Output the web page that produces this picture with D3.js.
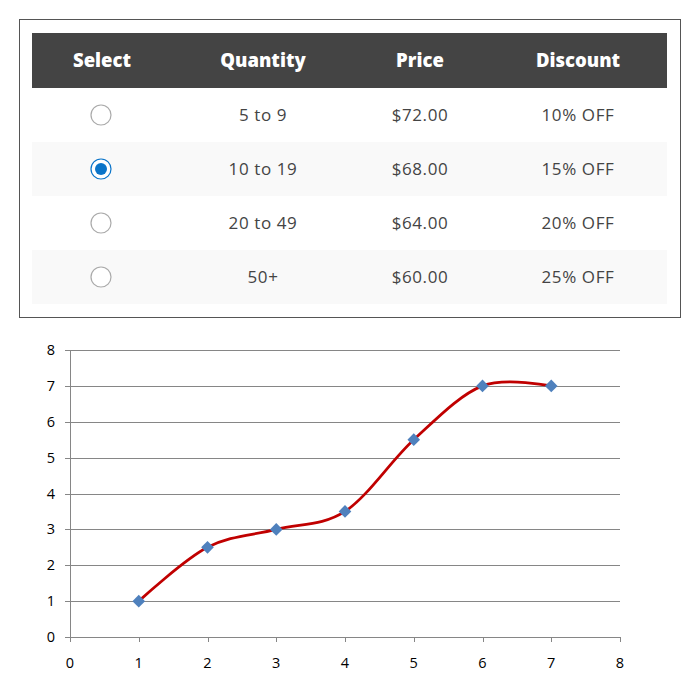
<!DOCTYPE html>
<html><head><meta charset="utf-8">
<script src="https://cdn.jsdelivr.net/npm/d3@7"></script>
<style>html,body{margin:0;padding:0;background:#fff;}svg{display:block;}</style>
</head><body>
<script>
const headers = ["Select", "Quantity", "Price", "Discount"];
const quantities = ["5 to 9", "10 to 19", "20 to 49", "50+"];
const prices = ["$72.00", "$68.00", "$64.00", "$60.00"];
const discounts = ["10% OFF", "15% OFF", "20% OFF", "25% OFF"];
const selectedRow = 1;

const xValues = [1, 2, 3, 4, 5, 6, 7];
const yValues = [1, 2.5, 3, 3.5, 5.5, 7, 7];
const xTicks = [0, 1, 2, 3, 4, 5, 6, 7, 8];
const yTicks = [0, 1, 2, 3, 4, 5, 6, 7, 8];

const svg = d3.select("body").append("svg").attr("width", 700).attr("height", 700);

// ---- Table ----
svg.append("rect").attr("x", 19.5).attr("y", 19.5).attr("width", 661).attr("height", 298)
  .attr("fill", "#fff").attr("stroke", "#555").attr("stroke-width", 1);

const colCenters = [102, 263, 420, 578];
const tX0 = 32, tX1 = 667, headY0 = 33, headY1 = 88, rowH = 54;

svg.append("rect").attr("x", tX0).attr("y", headY0).attr("width", tX1 - tX0).attr("height", headY1 - headY0).attr("fill", "#444");
svg.selectAll("text.hdr").data(headers).join("text").attr("class", "hdr")
  .attr("x", (d, i) => colCenters[i]).attr("y", (headY0 + headY1) / 2 + 6.5)
  .attr("text-anchor", "middle").attr("fill", "#fff")
  .attr("font-family", "'Open Sans', Lato, sans-serif").attr("font-weight", 800).attr("font-size", 18.5)
  .text(d => d);

const rows = quantities.map((q, i) => ({q, p: prices[i], d: discounts[i], i}));
const rowG = svg.selectAll("g.row").data(rows).join("g").attr("class", "row")
  .attr("transform", d => `translate(0,${headY1 + d.i * rowH})`);
rowG.append("rect").attr("x", tX0).attr("y", 0).attr("width", tX1 - tX0).attr("height", rowH)
  .attr("fill", d => d.i % 2 === 1 ? "#f9f9f9" : "#fff");
rowG.append("circle").attr("cx", 101).attr("cy", rowH / 2).attr("r", 10)
  .attr("fill", "#fff").attr("stroke", d => d.i === selectedRow ? "#0a74c9" : "#aaa").attr("stroke-width", 1.2);
rowG.filter(d => d.i === selectedRow).append("circle").attr("cx", 101).attr("cy", rowH / 2).attr("r", 6).attr("fill", "#0a74c9");
[["q", 1], ["p", 2], ["d", 3]].forEach(([k, c]) => {
  rowG.append("text").attr("x", colCenters[c]).attr("y", rowH / 2 + 6)
    .attr("text-anchor", "middle").attr("fill", "#444")
    .attr("font-family", "'Open Sans', Lato, sans-serif").attr("font-size", 17).attr("letter-spacing", 0.6)
    .text(d => d[k]);
});

// ---- Chart ----
const x = d3.scaleLinear().domain([0, 8]).range([70, 620]);
const y = d3.scaleLinear().domain([0, 8]).range([637, 350]);
const g = svg.append("g");
const axisColor = "#868686";
g.selectAll("line.grid").data(yTicks).join("line").attr("class", "grid")
  .attr("x1", x(0) - 5).attr("x2", x(8)).attr("y1", d => Math.round(y(d)) + 0.5).attr("y2", d => Math.round(y(d)) + 0.5)
  .attr("stroke", axisColor).attr("stroke-width", 1);
g.append("line").attr("x1", x(0) + 0.5).attr("x2", x(0) + 0.5).attr("y1", y(8)).attr("y2", y(0) + 5).attr("stroke", axisColor);
g.selectAll("line.xt").data(xTicks).join("line").attr("class", "xt")
  .attr("x1", d => Math.round(x(d)) + 0.5).attr("x2", d => Math.round(x(d)) + 0.5).attr("y1", y(0)).attr("y2", y(0) + 5).attr("stroke", axisColor);
g.selectAll("text.yl").data(yTicks).join("text").attr("class", "yl")
  .attr("x", 55).attr("y", d => y(d) + 5).attr("text-anchor", "end")
  .attr("font-family", "'Open Sans', 'DejaVu Sans', sans-serif").attr("font-size", 14.5).attr("fill", "#000").text(d => d);
g.selectAll("text.xl").data(xTicks).join("text").attr("class", "xl")
  .attr("x", d => x(d)).attr("y", 668).attr("text-anchor", "middle")
  .attr("font-family", "'Open Sans', 'DejaVu Sans', sans-serif").attr("font-size", 14.5).attr("fill", "#000").text(d => d);

const pts = xValues.map((v, i) => [v, yValues[i]]);
const line = d3.line().x(d => x(d[0])).y(d => y(d[1])).curve(d3.curveCardinal.tension(0));
g.append("path").attr("d", line(pts)).attr("fill", "none").attr("stroke", "#c00000").attr("stroke-width", 2.75);
const sym = d3.symbol().type(d3.symbolSquare).size(80);
g.selectAll("path.m").data(pts).join("path").attr("class", "m")
  .attr("d", sym).attr("transform", d => `translate(${x(d[0])},${y(d[1])}) rotate(45)`)
  .attr("fill", "#4f81bd");
</script>
</body></html>
